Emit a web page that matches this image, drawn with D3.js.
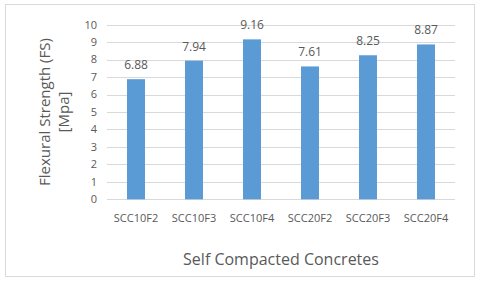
<!DOCTYPE html>
<html>
<head>
<meta charset="utf-8">
<script src="https://cdn.jsdelivr.net/npm/d3@7"></script>
<style>
  body { margin: 0; background: #fff; }
  text { font-family: "Open Sans", sans-serif; fill: #595959; }
</style>
</head>
<body>
<div id="chart"></div>
<script>
// chart data
var categories = ["SCC10F2", "SCC10F3", "SCC10F4", "SCC20F2", "SCC20F3", "SCC20F4"];
var strengths = [6.88, 7.94, 9.16, 7.61, 8.25, 8.87];
var yTicks = [0, 1, 2, 3, 4, 5, 6, 7, 8, 9, 10];

var width = 480, height = 281;
var margin = {top: 24.7, right: 25, bottom: 81.7, left: 107};

var svg = d3.select("#chart").append("svg")
    .attr("width", width)
    .attr("height", height);

// outer frame
svg.append("rect")
    .attr("x", 5.5).attr("y", 4.5)
    .attr("width", 469).attr("height", 272)
    .attr("fill", "#fff")
    .attr("stroke", "#d9d9d9");

var x = d3.scaleBand()
    .domain(categories)
    .range([margin.left, width - margin.right])
    .paddingInner(0.69)
    .paddingOuter(0.345);

var y = d3.scaleLinear()
    .domain([0, 10])
    .range([height - margin.bottom, margin.top]);

//gridlines
svg.append("g")
    .selectAll("line")
    .data(yTicks)
    .enter().append("line")
    .attr("x1", margin.left)
    .attr("x2", width - margin.right)
    .attr("y1", function(d){ return Math.round(y(d)) + 0.5; })
    .attr("y2", function(d){ return Math.round(y(d)) + 0.5; })
    .attr("stroke", "#d9d9d9");

// y tick labels
svg.append("g")
    .selectAll("text")
    .data(yTicks)
    .enter().append("text")
    .attr("x", 97)
    .attr("y", function(d){ return y(d); })
    .attr("dy", "0.35em")
    .attr("text-anchor", "end")
    .style("font-size", "11px")
    .text(function(d){ return d; });

// bars
svg.append("g")
    .selectAll("rect")
    .data(strengths)
    .enter().append("rect")
    .attr("x", function(d, i){ return x(categories[i]); })
    .attr("y", function(d){ return y(d); })
    .attr("width", x.bandwidth())
    .attr("height", function(d){ return y(0) - y(d); })
    .attr("fill", "#5b9bd5");

// value labels
svg.append("g")
    .selectAll("text")
    .data(strengths)
    .enter().append("text")
    .attr("x", function(d, i){ return x(categories[i]) + x.bandwidth() / 2; })
    .attr("y", function(d){ return y(d) - 10; })
    .attr("text-anchor", "middle")
    .style("font-size", "12px")
    .text(function(d){ return d.toFixed(2); });

// category labels
svg.append("g")
    .selectAll("text")
    .data(categories)
    .enter().append("text")
    .attr("x", function(d){ return x(d) + x.bandwidth() / 2; })
    .attr("y", 218)
    .attr("dy", "0.35em")
    .attr("text-anchor", "middle")
    .style("font-size", "11px")
    .text(function(d){ return d; });

// axis titles
svg.append("text")
    .attr("x", 281)
    .attr("y", 259)
    .attr("dy", "0.35em")
    .attr("text-anchor", "middle")
    .style("font-size", "16px")
    .text("Self Compacted Concretes");

var yTitle = svg.append("text")
    .attr("transform", "translate(55,112) rotate(-90)")
    .attr("text-anchor", "middle")
    .style("font-size", "15px");
yTitle.append("tspan").attr("x", 0).attr("y", -10).attr("dy", "0.35em").text("Flexural Strength (FS)");
yTitle.append("tspan").attr("x", 0).attr("y", 9).attr("dy", "0.35em").text("[Mpa]");
</script>
</body>
</html>
